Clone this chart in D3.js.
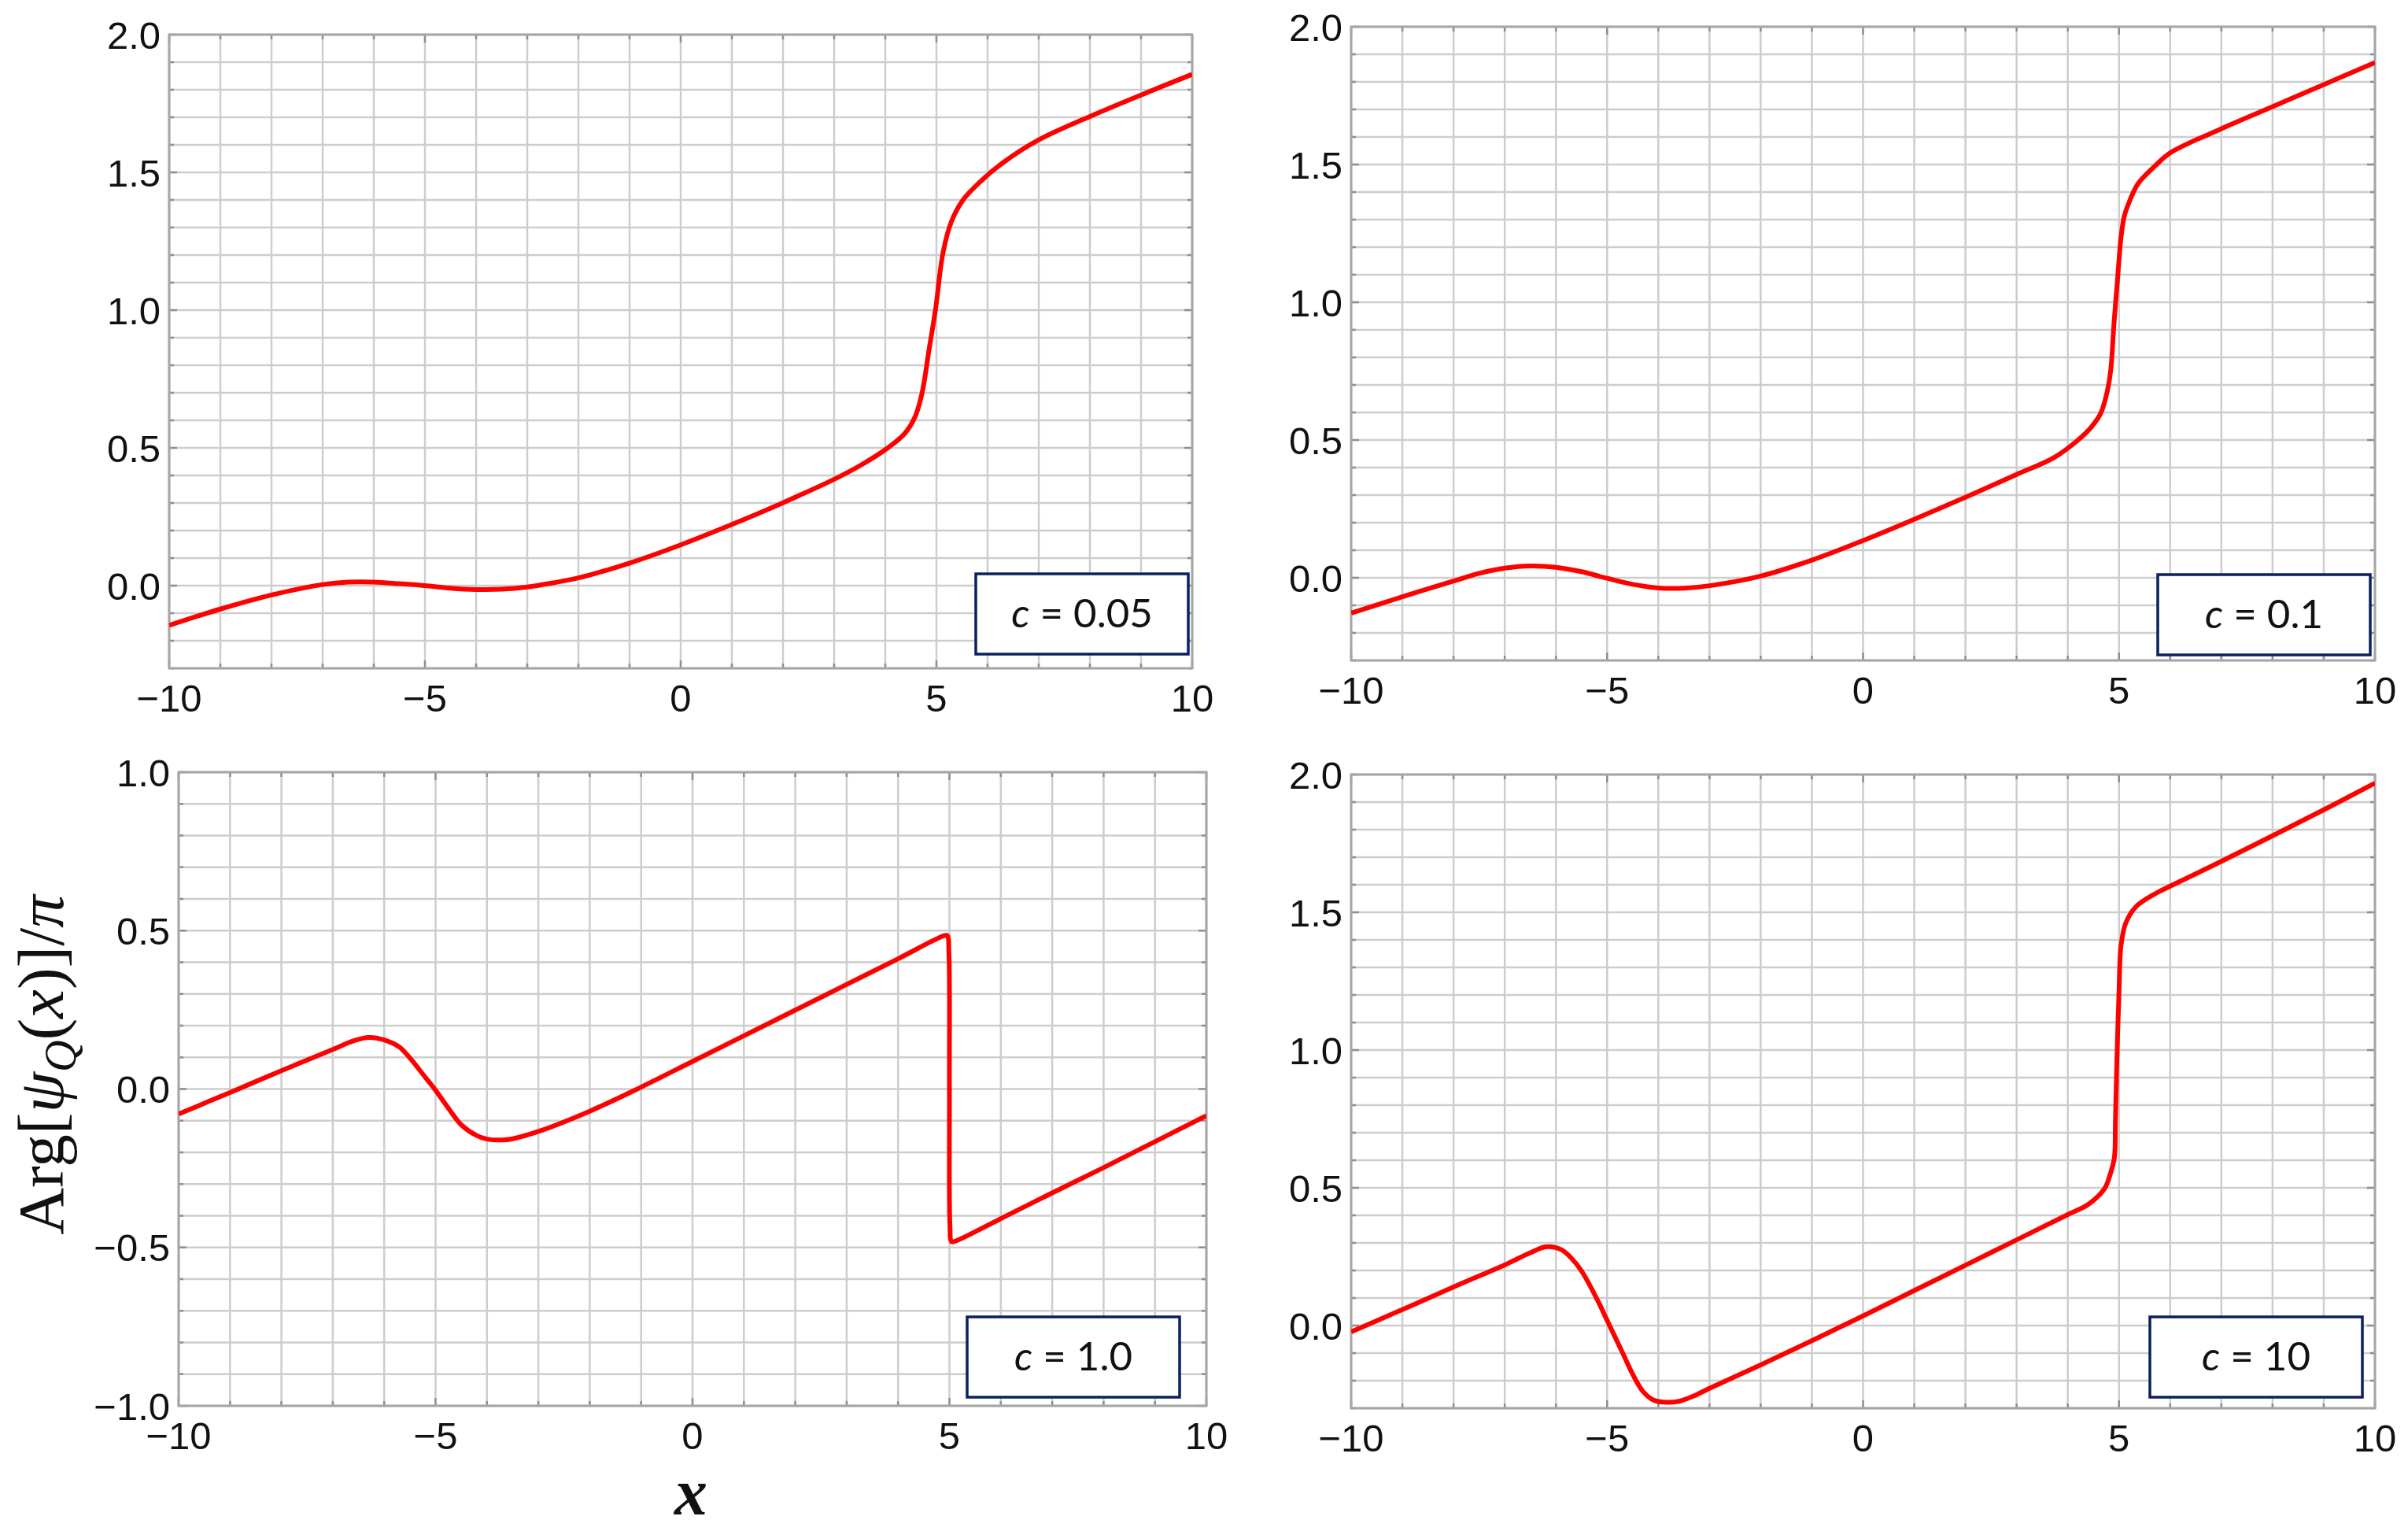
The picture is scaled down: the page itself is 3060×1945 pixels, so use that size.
<!DOCTYPE html>
<html>
<head>
<meta charset="utf-8">
<script src="https://cdn.jsdelivr.net/npm/d3@7"></script>
<style>
  body { margin: 0; background: #fff; }
  svg { display: block; }
</style>
</head>
<body>
<svg id="chart" width="3060" height="1945"></svg>
<script>

// Curve values, [x, Arg/pi]
const curveC005 = [
  [-10,-0.144],[-9,-0.085],[-8,-0.034],[-7,0.004],[-6.5,0.013],[-6,0.013],[-5.5,0.007],
  [-5,0.0],[-4.5,-0.009],[-4,-0.014],[-3.5,-0.013],[-3,-0.005],[-2.5,0.01],[-2,0.028],
  [-1,0.082],[0,0.148],[1,0.222],[2,0.301],[3,0.386],[3.5,0.435],[4.05,0.5],[4.38,0.552],
  [4.58,0.612],[4.72,0.70],[4.85,0.85],[4.98,1.0],[5.13,1.21],[5.29,1.32],[5.52,1.40],
  [5.85,1.465],[6.3,1.535],[7,1.618],[8,1.703],[9,1.781],[10,1.856]
];

const curveC01 = [
  [-10,-0.128],[-9,-0.069],[-8,-0.012],[-7.5,0.016],[-7,0.035],[-6.5,0.043],[-6,0.038],
  [-5.5,0.022],[-5,-0.002],[-4.5,-0.024],[-4,-0.037],[-3.5,-0.038],[-3,-0.029],[-2,0.006],
  [-1,0.064],[0,0.135],[1,0.212],[2,0.292],[3,0.375],[3.73,0.436],[4.2,0.5],[4.45,0.545],
  [4.64,0.596],[4.77,0.676],[4.84,0.756],[4.9,0.917],[4.97,1.08],[5.04,1.237],[5.1,1.31],
  [5.17,1.35],[5.37,1.43],[5.7,1.494],[6,1.542],[7,1.63],[8,1.71],[9,1.79],[10,1.87]
];

const curveC1 = [
  [-10,-0.079],[-9,-0.011],[-8,0.058],[-7,0.125],[-6.6,0.152],[-6.3,0.163],[-6,0.155],
  [-5.7,0.132],[-5.5,0.098],[-5.2,0.037],[-5,-0.004],[-4.7,-0.072],[-4.5,-0.113],
  [-4.2,-0.147],[-4,-0.158],[-3.7,-0.161],[-3.5,-0.157],[-3,-0.134],[-2,-0.07],
  [-1,0.006],[0,0.087],[1,0.168],[2,0.249],[3,0.33],[4,0.411],[4.9,0.484],[4.96,0.484],
  [4.99,0.43],[5.0,0.0],[5.01,-0.43],[5.04,-0.482],[5.1,-0.481],[6,-0.409],[7,-0.328],
  [8,-0.248],[9,-0.166],[10,-0.084]
];

const curveC10 = [
  [-10,-0.023],[-9,0.058],[-8,0.14],[-7,0.22],[-6.8,0.238],[-6.5,0.264],[-6.2,0.286],
  [-5.9,0.276],[-5.7,0.245],[-5.5,0.198],[-5.2,0.097],[-5,0.019],[-4.7,-0.098],
  [-4.5,-0.177],[-4.3,-0.239],[-4.1,-0.27],[-3.9,-0.278],[-3.6,-0.275],[-3.3,-0.255],
  [-3,-0.228],[-2,-0.143],[-1,-0.055],[0,0.035],[1,0.127],[2,0.219],[3,0.311],[4,0.403],
  [4.4,0.44],[4.71,0.495],[4.83,0.55],[4.91,0.61],[4.93,0.74],[4.96,0.97],[5.0,1.21],
  [5.04,1.38],[5.13,1.46],[5.33,1.52],[5.73,1.57],[6,1.595],[7,1.685],[8,1.778],
  [9,1.872],[10,1.969]
];

// Legend values (c) and tick labels
const cValues = ['0.05', '0.1', '1.0', '10'];
const xTickValues = [-10, -5, 0, 5, 10];
const yTicksPhase = [0, 0.5, 1.0, 1.5, 2.0];
const yTicksWrapped = [-1.0, -0.5, 0, 0.5, 1.0];

// Layout settings
const curveColor = '#ff0000';
const gridColor = '#cdcdcd';
const frameColor = '#a6a6a6';
const boxColor = '#0a2160';
const tickFont = "'Liberation Sans', Arial, sans-serif";
const boxW = 270, boxH = 102;

const panels = [
  {data: curveC005, c: cValues[0], left: 215, right: 1515, top: 44, bottom: 849,
   yDomain: [-0.3, 2.0], yTicks: yTicksPhase, boxX: 1240, boxY: 729},
  {data: curveC01, c: cValues[1], left: 1717, right: 3018, top: 34, bottom: 839,
   yDomain: [-0.3, 2.0], yTicks: yTicksPhase, boxX: 2742, boxY: 730},
  {data: curveC1, c: cValues[2], left: 227, right: 1533, top: 981, bottom: 1786,
   yDomain: [-1.0, 1.0], yTicks: yTicksWrapped, boxX: 1229, boxY: 1673},
  {data: curveC10, c: cValues[3], left: 1717, right: 3018, top: 984, bottom: 1789,
   yDomain: [-0.3, 2.0], yTicks: yTicksPhase, boxX: 2732, boxY: 1673}
];

const svg = d3.select('#chart');
const fmtY = d3.format('.1f');
const fmtX = d3.format('d');

panels.forEach((p, i) => drawPanel(p, i));

function drawPanel(p, i) {

  const x = d3.scaleLinear().domain([-10, 10]).range([p.left, p.right]);
  const y = d3.scaleLinear().domain(p.yDomain).range([p.bottom, p.top]);
  const g = svg.append('g').attr('class', 'panel-' + i);

  // Grid lines: every 1 in x, every 0.1 in y
  const xGrid = d3.range(-10, 11);
  const yGrid = d3.range(Math.round(p.yDomain[0] * 10), Math.round(p.yDomain[1] * 10) + 1).map(k => k / 10);

  g.append('g').selectAll('line').data(xGrid).join('line')
    .attr('x1', d => x(d)).attr('x2', d => x(d))
    .attr('y1', p.top).attr('y2', p.bottom)
    .attr('stroke', gridColor).attr('stroke-width', 2.5);

  g.append('g').selectAll('line').data(yGrid).join('line')
    .attr('x1', p.left).attr('x2', p.right)
    .attr('y1', d => y(d)).attr('y2', d => y(d))
    .attr('stroke', gridColor).attr('stroke-width', 2.5);

  // Inward frame ticks on all four sides
  const isMajorY = d => Math.abs(d * 2 - Math.round(d * 2)) < 1e-6;
  const ticks = g.append('g').attr('stroke', '#8f8f8f').attr('stroke-width', 2.5);
  ticks.selectAll('.yl').data(yGrid).join('line')
    .attr('x1', p.left).attr('x2', d => p.left + (isMajorY(d) ? 10 : 6))
    .attr('y1', d => y(d)).attr('y2', d => y(d));
  ticks.selectAll('.yr').data(yGrid).join('line')
    .attr('x1', p.right).attr('x2', d => p.right - (isMajorY(d) ? 10 : 6))
    .attr('y1', d => y(d)).attr('y2', d => y(d));
  ticks.selectAll('.xb').data(xGrid).join('line')
    .attr('x1', d => x(d)).attr('x2', d => x(d))
    .attr('y1', p.bottom).attr('y2', d => p.bottom - (d % 5 === 0 ? 10 : 6));
  ticks.selectAll('.xt').data(xGrid).join('line')
    .attr('x1', d => x(d)).attr('x2', d => x(d))
    .attr('y1', p.top).attr('y2', d => p.top + (d % 5 === 0 ? 10 : 6));

  // Frame
  g.append('rect')
    .attr('x', p.left).attr('y', p.top)
    .attr('width', p.right - p.left).attr('height', p.bottom - p.top)
    .attr('fill', 'none').attr('stroke', frameColor).attr('stroke-width', 3);

  // Tick labels
  g.append('g').selectAll('text').data(p.yTicks).join('text')
    .attr('x', p.left - 11).attr('y', d => y(d))
    .attr('dy', '0.36em')
    .attr('text-anchor', 'end')
    .style('font-family', tickFont).style('font-size', '49px').attr('fill', '#111')
    .text(d => fmtY(d));

  g.append('g').selectAll('text').data(xTickValues).join('text')
    .attr('x', d => x(d)).attr('y', p.bottom + 55)
    .attr('text-anchor', 'middle')
    .style('font-family', tickFont).style('font-size', '49px').attr('fill', '#111')
    .text(d => fmtX(d));

  // Curve, clipped to the frame
  g.append('clipPath').attr('id', 'clip-' + i)
    .append('rect')
    .attr('x', p.left).attr('y', p.top)
    .attr('width', p.right - p.left).attr('height', p.bottom - p.top);

  const line = d3.line()
    .x(d => x(d[0]))
    .y(d => y(d[1]))
    .curve(d3.curveCatmullRom.alpha(0.5));

  g.append('path')
    .datum(p.data)
    .attr('clip-path', 'url(#clip-' + i + ')')
    .attr('d', line)
    .attr('fill', 'none')
    .attr('stroke', curveColor)
    .attr('stroke-width', 6)
    .attr('stroke-linejoin', 'round');

  // Legend box
  g.append('rect')
    .attr('x', p.boxX).attr('y', p.boxY)
    .attr('width', boxW).attr('height', boxH)
    .attr('fill', '#fff').attr('stroke', boxColor).attr('stroke-width', 3.5);

  const label = g.append('text')
    .attr('x', p.boxX + boxW / 2).attr('y', p.boxY + 68)
    .attr('text-anchor', 'middle')
    .style('font-family', "Lato, 'Open Sans', sans-serif")
    .style('font-size', '51px').attr('fill', '#111');
  label.append('tspan').style('font-style', 'italic').text('c');
  label.append('tspan').text(' = ' + p.c);
}

// Axis titles
const ylab = svg.append('text')
  .attr('transform', 'translate(80,1353) rotate(-90)')
  .attr('text-anchor', 'middle')
  .style('font-family', "'Liberation Serif', 'Times New Roman', serif")
  .style('font-size', '83px').attr('fill', '#111');
ylab.append('tspan').text('Arg[');
ylab.append('tspan').style('font-style', 'italic').text('ψ');
ylab.append('tspan').style('font-style', 'italic').style('font-size', '56px').attr('dy', 16).text('Q');
ylab.append('tspan').attr('dy', -16).text('(');
ylab.append('tspan').style('font-style', 'italic').text('x');
ylab.append('tspan').text(')]/');
ylab.append('tspan').style('font-style', 'italic').text('π');

svg.append('text')
  .attr('x', 878).attr('y', 1924)
  .attr('text-anchor', 'middle')
  .style('font-family', "'Liberation Serif', 'Times New Roman', serif")
  .style('font-style', 'italic')
  .style('font-weight', 'bold')
  .style('font-size', '84px').attr('fill', '#111')
  .text('x');

</script>
</body>
</html>
